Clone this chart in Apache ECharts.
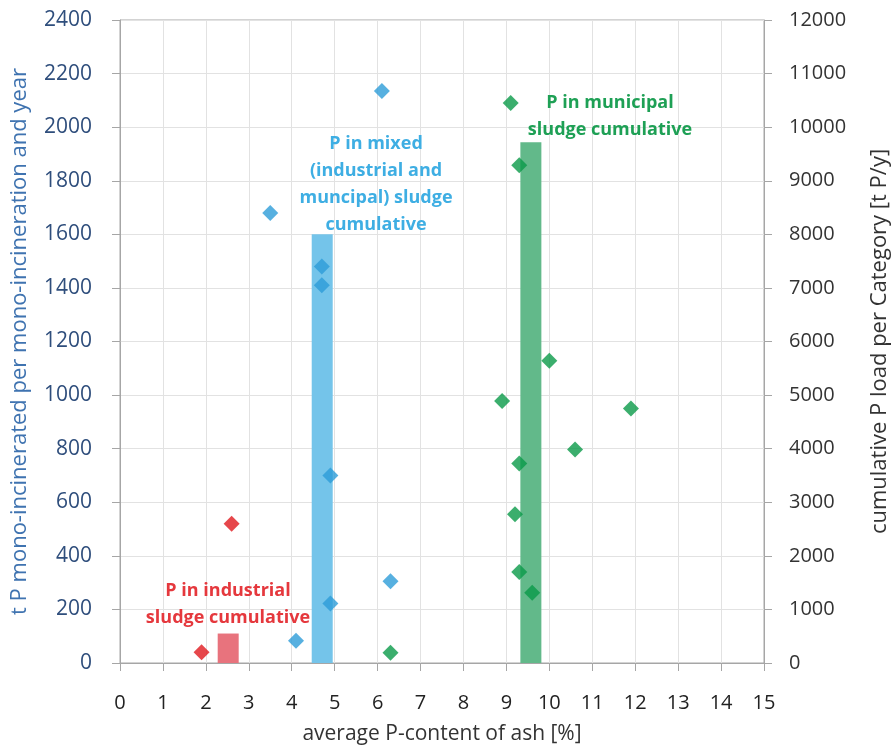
<!DOCTYPE html>
<html>
<head>
<meta charset="utf-8">
<script src="https://cdn.jsdelivr.net/npm/echarts@6/dist/echarts.min.js"></script>
<style>
  html, body { margin: 0; padding: 0; background: #fff; }
  #main { width: 895px; height: 748px; }
</style>
</head>
<body>
<div id="main"></div>
<script>
// scatter points [P-content %, t P per incineration]
const industrialPts = [[1.9, 40], [2.6, 520]];
const mixedPts = [[3.5, 1680], [6.1, 2135], [4.7, 1480], [4.7, 1410], [4.9, 700], [4.9, 222], [4.1, 83], [6.3, 305]];
const municipalPts = [[6.3, 38], [9.1, 2090], [9.3, 1858], [10.0, 1128], [8.9, 978], [11.9, 950], [10.6, 797],
  [9.3, 745], [9.2, 555], [9.3, 340], [9.6, 262]];

// cumulative bars [P-content %, t P/y]
const industrialBar = [[2.52, 550]];
const mixedBar = [[4.71, 8000]];
const municipalBar = [[9.57, 9720]];

const fontFam = 'Open Sans';
const plain = v => String(v);

let myChart = echarts.init(document.getElementById('main'));

// annotation text block
function note(txt, cx, top, color) {
    return {
        type: 'text', x: cx, y: top, z: 100,
        style: {
            text: txt, fill: color, align: 'center', textAlign: 'center', verticalAlign: 'top',
            fontFamily: fontFam, fontWeight: 'bold', fontSize: 18, lineHeight: 27
        }
    };
}

myChart.setOption({
    animation: false,
    grid: {
        left: 120,
        right: 131,
        top: 20,
        bottom: 85,
        outerBoundsMode: 'none',
        show: true,
        borderColor: '#a6a6a6',
        borderWidth: 1
    },
    xAxis: {
        type: 'value',
        min: 0,
        max: 15,
        interval: 1,
        name: 'average P-content of ash [%]',
        nameLocation: 'middle',
        nameGap: 61,
        nameTextStyle: { fontFamily: fontFam, fontSize: 21, color: '#333' },
        axisLine: { lineStyle: { color: '#a6a6a6' } },
        axisTick: { show: true, length: 8, lineStyle: { color: '#a6a6a6' } },
        axisLabel: { fontFamily: fontFam, fontSize: 20, color: '#222', margin: 30, formatter: plain },
        splitLine: { show: true, lineStyle: { color: '#e2e2e2' } }
    },
    yAxis: [
        {
            type: 'value',
            min: 0,
            max: 2400,
            interval: 200,
            name: 't P mono-incinerated per mono-incineration and year',
            nameLocation: 'middle',
            nameGap: 89,
            nameTextStyle: { fontFamily: fontFam, fontSize: 22, color: '#3f73b0' },
            axisLine: { show: true, lineStyle: { color: '#a6a6a6' } },
            axisTick: { show: true, length: 8, lineStyle: { color: '#a6a6a6' } },
            axisLabel: { fontFamily: fontFam, fontSize: 21, color: '#2f4e7c', margin: 28, formatter: plain },
            splitLine: { show: true, lineStyle: { color: '#e2e2e2' } }
        },
        {
            type: 'value',
            min: 0,
            max: 12000,
            interval: 1000,
            position: 'right',
            name: 'cumulative P load per Category [t P/y]',
            nameLocation: 'middle',
            nameGap: 105,
            nameRotate: 90,
            nameTextStyle: { fontFamily: fontFam, fontSize: 22, color: '#333' },
            axisLine: { show: true, lineStyle: { color: '#a6a6a6' } },
            axisTick: { show: true, length: 8, lineStyle: { color: '#a6a6a6' } },
            axisLabel: { fontFamily: fontFam, fontSize: 20, color: '#333', margin: 25, formatter: plain },
            splitLine: { show: false }
        }
    ],
    series: [
        { type: 'bar', yAxisIndex: 1, data: industrialBar, barWidth: 21, itemStyle: { color: '#e8737d' } },
        { type: 'bar', yAxisIndex: 1, data: mixedBar, barWidth: 21, barGap: '-100%', itemStyle: { color: '#74c4ea' } },
        { type: 'bar', yAxisIndex: 1, data: municipalBar, barWidth: 21, barGap: '-100%', itemStyle: { color: '#62b98a' } },
        { type: 'scatter', data: industrialPts, symbol: 'diamond', symbolSize: 16, itemStyle: { color: '#e0191e' } },
        { type: 'scatter', data: mixedPts, symbol: 'diamond', symbolSize: 16, itemStyle: { color: '#2d9cd8' } },
        { type: 'scatter', data: municipalPts, symbol: 'diamond', symbolSize: 16, itemStyle: { color: '#0a9a48' } }
    ],
    graphic: [
        note('P in industrial\nsludge cumulative', 228, 577, '#e5383d'),
        note('P in mixed\n(industrial and\nmuncipal) sludge\ncumulative', 376, 130, '#3eaee3'),
        note('P in municipal\nsludge cumulative', 610, 89, '#1ea055')
    ]
});
</script>
</body>
</html>
